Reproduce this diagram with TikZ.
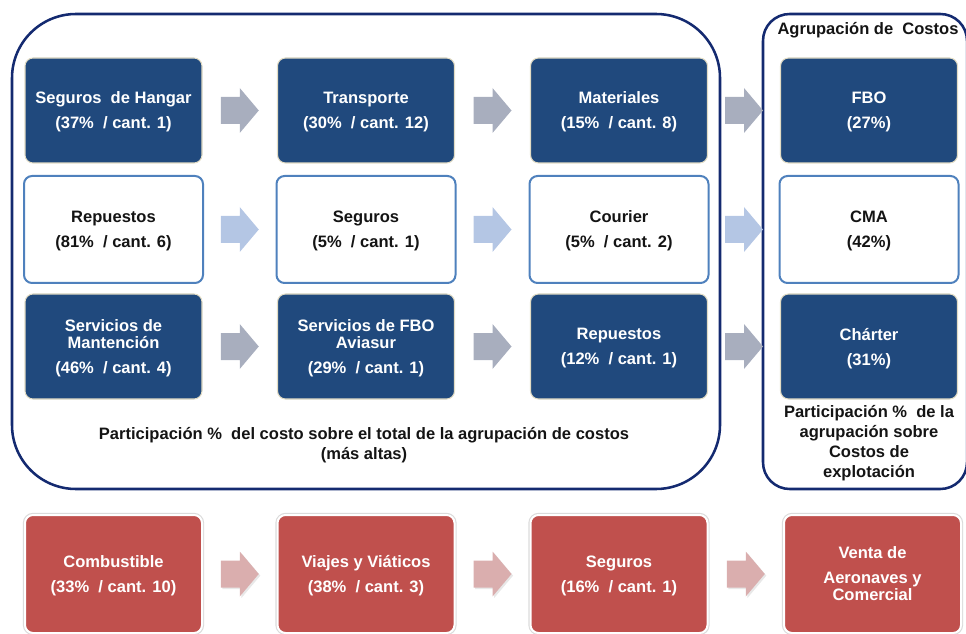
\documentclass[tikz,border=0pt]{standalone}
\usepackage{fontspec}
\setmainfont{Liberation Sans}
\usetikzlibrary{calc}

\definecolor{navy}{RGB}{20,42,112}
\definecolor{boxblue}{RGB}{32,73,125}
\definecolor{edgeblue}{RGB}{79,129,189}
\definecolor{boxred}{RGB}{192,80,77}
\definecolor{arrgray}{RGB}{168,174,190}
\definecolor{arrblue}{RGB}{180,198,228}
\definecolor{arrpink}{RGB}{218,174,174}
\definecolor{rim}{RGB}{226,220,196}
\definecolor{ink}{RGB}{20,20,20}

% block arrow centred in the gap between two named nodes
\newcommand\blockarrow[3]{%
  \fill[#3] ($(#1.east)!.5!(#2.west)$) ++(-19,-13.5) -- ++(19,0) -- ++(0,-9)
    -- ++(19,22.5) -- ++(-19,22.5) -- ++(0,-9) -- ++(-19,0) -- cycle;}

\begin{document}
\begin{tikzpicture}[x=0.75pt,y=-0.75pt,
  txt/.style={font=\fontsize{12.4}{12.75}\selectfont\bfseries, align=center,
    text depth=0pt},
  darkbox/.style={txt, text=white, fill=boxblue, draw=rim, line width=0.8pt,
    rounded corners=6pt, minimum width=132.75pt, minimum height=78.75pt},
  lightbox/.style={txt, text=ink, fill=white, draw=edgeblue, line width=1.5pt,
    rounded corners=6pt, minimum width=134.25pt, minimum height=80.25pt},
  redbox/.style={txt, text=white, fill=boxred, draw=white, line width=1.5pt,
    rounded corners=6pt, minimum width=132.75pt, minimum height=88.5pt,
    preaction={draw=black!14, line width=3.2pt}},
  group/.style={draw=navy, line width=1.9pt},
  caption/.style={font=\fontsize{12.4}{14.6}\selectfont\bfseries, text=ink, align=center},
  shadowed/.style={preaction={fill=black!18, opacity=0.5, transform canvas={shift={(1.2pt,-1.2pt)}}}}
]
\useasboundingbox (0,0) rectangle (966,634);

% grouping frames
\node[group, rounded corners=48pt, minimum width=531pt, minimum height=356.25pt]
  (grp) at (366,251.5) {};
\node[group, rounded corners=20pt, minimum width=153pt, minimum height=356.25pt]
  (agr) at (865,251.5) {};

% row 1
\node[darkbox] (b11) at (113.5,110.5) {Seguros\ \ de Hangar\\[6pt](37\%\ \ / cant. 1)};
\node[darkbox] (b12) at (366,110.5) {Transporte\\[6pt](30\%\ \ / cant. 12)};
\node[darkbox] (b13) at (619,110.5) {Materiales\\[6pt](15\%\ \ / cant. 8)};
\node[darkbox] (b14) at (869,110.5) {FBO\\[6pt](27\%)};

% row 2
\node[lightbox] (b21) at (113.5,229.5) {Repuestos\\[6pt](81\%\ \ / cant. 6)};
\node[lightbox] (b22) at (366,229.5) {Seguros\\[6pt](5\%\ \ / cant. 1)};
\node[lightbox] (b23) at (619,229.5) {Courier\\[6pt](5\%\ \ / cant. 2)};
\node[lightbox] (b24) at (869,229.5) {CMA\\[6pt](42\%)};

% row 3
\node[darkbox] (b31) at (113.5,346.5) {Servicios de\\Mantención\\[5.5pt](46\%\ \ / cant. 4)};
\node[darkbox] (b32) at (366,346.5) {Servicios de FBO\\Aviasur\\[5.5pt](29\%\ \ / cant. 1)};
\node[darkbox] (b33) at (619,346.5) {Repuestos\\[6pt](12\%\ \ / cant. 1)};
\node[darkbox] (b34) at (869,346.5) {Chárter\\[6pt](31\%)};

% row 4
\node[redbox] (r1) at (113.5,574) {Combustible\\[6pt](33\%\ \ / cant. 10)};
\node[redbox] (r2) at (366,574) {Viajes y Viáticos\\[6pt](38\%\ \ / cant. 3)};
\node[redbox] (r3) at (619,574) {Seguros\\[6pt](16\%\ \ / cant. 1)};
\node[redbox] (r4) at (872.5,574) {Venta de\\[6pt]Aeronaves y\\Comercial};

% captions
\node[caption] (ttl) at (868,30) {Agrupación de\ \ Costos};
\node[caption] (cap1) at (364,445)
  {Participación \%\ \ del costo sobre el total de la agrupación de costos\\(más altas)};
\node[caption, font=\fontsize{12.4}{15}\selectfont\bfseries] (cap2) at (869,443.5)
  {Participación \%\ \ de la\\agrupación sobre\\Costos de\\explotación};

% block arrows
\blockarrow{b11}{b12}{arrgray}
\blockarrow{b12}{b13}{arrgray}
\blockarrow{b13}{b14}{arrgray}
\blockarrow{b21}{b22}{arrblue}
\blockarrow{b22}{b23}{arrblue}
\blockarrow{b23}{b24}{arrblue}
\blockarrow{b31}{b32}{arrgray}
\blockarrow{b32}{b33}{arrgray}
\blockarrow{b33}{b34}{arrgray}
\blockarrow{r1}{r2}{arrpink, shadowed}
\blockarrow{r2}{r3}{arrpink, shadowed}
\blockarrow{r3}{r4}{arrpink, shadowed}
\end{tikzpicture}
\end{document}
